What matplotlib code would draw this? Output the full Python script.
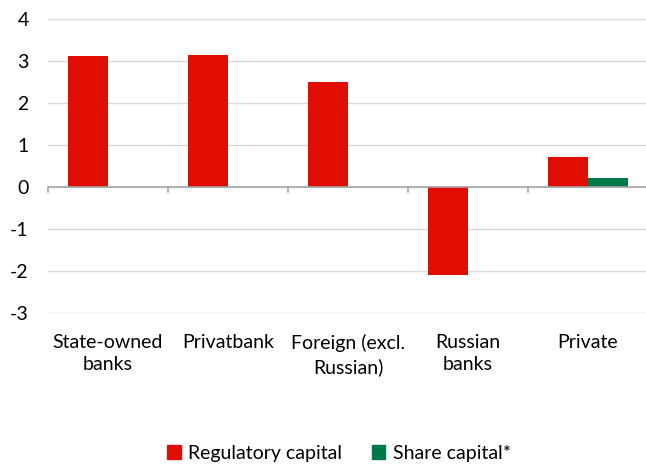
import numpy as np
import matplotlib
matplotlib.use("Agg")
import matplotlib.pyplot as plt
from matplotlib.patches import Patch

categories = ["State-owned\nbanks", "Privatbank", "Foreign (excl.\nRussian)", "Russian\nbanks", "Private"]
regulatory = [3.13, 3.14, 2.51, -2.10, 0.71]
share = [0.0, 0.0, 0.01, 0.0, 0.21]

RED = "#e00d00"
GREEN = "#00794a"

plt.rcParams["font.family"] = ["Lato", "DejaVu Sans"]
plt.rcParams["axes.unicode_minus"] = False

fig = plt.figure(figsize=(6.46, 4.68), dpi=100)
ax = fig.add_axes([48 / 646, 1 - 313 / 468, 600 / 646, 294 / 468])

x = np.arange(len(categories))
w = 1 / 3
ax.bar(x - w / 2, regulatory, w, color=RED, zorder=2)
ax.bar(x + w / 2, share, w, color=GREEN, zorder=2)

ax.set_xlim(-0.5, len(categories) - 0.5)
ax.set_ylim(-3, 4)
ax.set_yticks(range(-3, 5))
ax.yaxis.grid(True, color="#d9d9d9", lw=1, zorder=0)
ax.tick_params(axis="y", length=0, pad=14, labelsize=14)
for s in ax.spines.values():
    s.set_visible(False)

# zero axis with category boundary ticks
ax.axhline(0, color="#a6a6a6", lw=1.2, zorder=3)
for b in np.arange(-0.5, len(categories) - 0.4, 1):
    ax.plot([b, b], [0, -0.12], color="#a6a6a6", lw=1.2, zorder=3, clip_on=False)

ax.set_xticks(x)
ax.set_xticklabels(categories, fontsize=14, linespacing=1.4, va="top")
ax.tick_params(axis="x", length=0, pad=15)

handles = [Patch(color=RED, label="Regulatory capital"),
           Patch(color=GREEN, label="Share capital*")]
fig.legend(handles=handles, loc="center", bbox_to_anchor=(339 / 646, 1 - 453 / 468),
           ncol=2, frameon=False, fontsize=14, handlelength=0.7, handleheight=0.7,
           handletextpad=0.4, columnspacing=1.5)

fig.savefig("out.png", dpi=100)
